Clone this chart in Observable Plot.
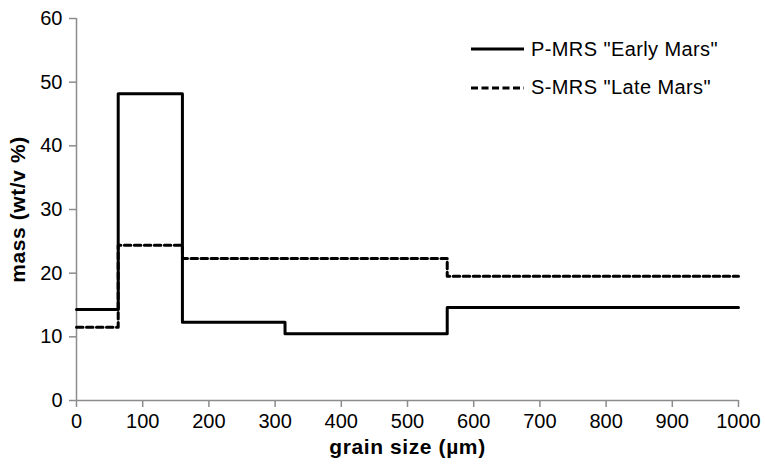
<!DOCTYPE html>
<html>
<head>
<meta charset="utf-8">
<script src="https://cdn.jsdelivr.net/npm/d3@7"></script>
<script src="https://cdn.jsdelivr.net/npm/@observablehq/plot@0.6"></script>
<style>
  body { margin: 0; background: #fff; }
  #wrap { position: relative; width: 765px; height: 464px; font-family: "Liberation Sans", Arial, sans-serif; }
  #chart svg { display: block; }
  #chart svg [aria-label="x-axis label"] text,
  #chart svg [aria-label="y-axis label"] text { font-weight: bold; font-size: 21px; letter-spacing: 0.6px; fill: #000; }
  .legend { position: absolute; left: 471px; top: 30px; }
  .row { display: flex; align-items: center; height: 38.4px; }
  .row svg { margin-right: 7px; display: block; }
  .row span { font-size: 20px; letter-spacing: 0.4px; color: #000; white-space: nowrap; }
</style>
</head>
<body>
<div id="wrap">
  <div id="chart"></div>
  <div class="legend" id="legend"></div>
</div>
<script>
// Series: P-MRS "Early Mars" (solid)
const pmrsX = [0, 63, 160, 315, 560, 1000];
const pmrsY = [14.3, 48.2, 12.3, 10.5, 14.6, 14.6];
// Series: S-MRS "Late Mars" (dashed)
const smrsX = [0, 63, 160, 560, 1000];
const smrsY = [11.5, 24.4, 22.3, 19.5, 19.5];
const seriesNames = ['P-MRS "Early Mars"', 'S-MRS "Late Mars"'];
const xTicks = [0, 100, 200, 300, 400, 500, 600, 700, 800, 900, 1000];
const yTicks = [0, 10, 20, 30, 40, 50, 60];

const pmrs = pmrsX.map((x, i) => ({x, y: pmrsY[i]}));
const smrs = smrsX.map((x, i) => ({x, y: smrsY[i]}));

const axisColor = "#8c8c8c";

const plot = Plot.plot({
  width: 765,
  height: 464,
  marginLeft: 76,
  marginRight: 27,
  marginTop: 18,
  marginBottom: 64,
  style: { fontFamily: '"Liberation Sans", Arial, sans-serif', fontSize: "20px", color: "#000", background: "#fff" },
  x: { domain: [0, 1000] },
  y: { domain: [0, 60] },
  marks: [
    Plot.axisX({ticks: xTicks, tickFormat: d => String(d), tickSize: 7, tickPadding: 6, fontSize: 20, stroke: axisColor, strokeWidth: 1.5, fill: "#000",
      label: "grain size (µm)", labelAnchor: "center", labelArrow: "none", labelOffset: 53}),
    Plot.axisY({ticks: yTicks, tickFormat: d => String(d), tickSize: 7, tickPadding: 7, fontSize: 20, stroke: axisColor, strokeWidth: 1.5, fill: "#000",
      label: "mass (wt/v %)", labelAnchor: "center", labelArrow: "none", labelOffset: 66}),
    Plot.ruleY([0], {stroke: axisColor, strokeWidth: 1.5}),
    Plot.ruleX([0], {stroke: axisColor, strokeWidth: 1.5}),
    Plot.line(smrs, {x: "x", y: "y", curve: "step-after", stroke: "#000", strokeWidth: 3, strokeDasharray: "6.5,3.5"}),
    Plot.line(pmrs, {x: "x", y: "y", curve: "step-after", stroke: "#000", strokeWidth: 3})
  ]
});
document.getElementById("chart").appendChild(plot);

const dashes = ["none", "7,3.5"];
const legend = document.getElementById("legend");
seriesNames.forEach((name, i) => {
  const row = document.createElement("div");
  row.className = "row";
  row.innerHTML = `<svg width="53" height="8"><line x1="0" x2="53" y1="4" y2="4" stroke="#000" stroke-width="3" stroke-dasharray="${dashes[i]}"/></svg><span>${name}</span>`;
  legend.appendChild(row);
});
</script>
</body>
</html>
